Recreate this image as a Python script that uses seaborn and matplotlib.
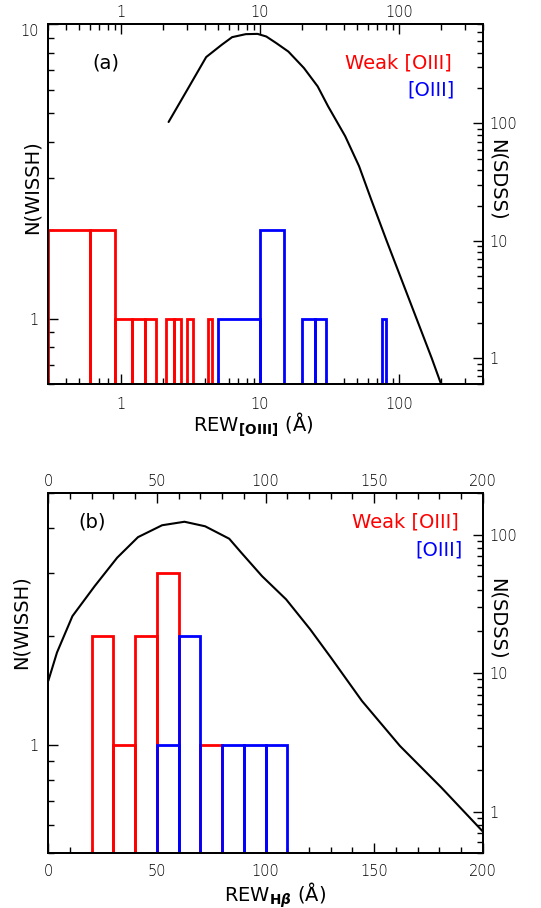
import numpy as np
import matplotlib
matplotlib.use("Agg")
import matplotlib.pyplot as plt
import seaborn as sns
from matplotlib.ticker import FixedLocator, NullFormatter, FuncFormatter

# ---------------- data ----------------
# Panel (a): REW [OIII]
a_weak_left = [0.3, 0.6, 0.9, 1.2, 1.5, 2.1, 2.4, 3.0, 4.2]
a_weak_right = [0.6, 0.9, 1.2, 1.5, 1.8, 2.4, 2.7, 3.3, 4.5]
a_weak_counts = [2, 2, 1, 1, 1, 1, 1, 1, 1]
a_oiii_left = [5, 10, 20, 25, 75]
a_oiii_right = [10, 15, 25, 30, 80]
a_oiii_counts = [1, 2, 1, 1, 1]
a_sdss_rew = [2.2, 3.0, 4.1, 5.3, 6.3, 7.9, 9.6, 11.1, 13.1, 16.0, 20.7, 26.0,
              30.9, 41.0, 51.6, 63.0, 81.5, 172.0, 201.0]
a_sdss_n = [103, 194, 368, 468, 544, 577, 580, 551, 484, 410, 297, 207,
            140, 78, 43.3, 22.6, 10.0, 1.0, 0.6]

# Panel (b): REW Hbeta
b_weak_left = [20, 30, 40, 50, 70]
b_weak_right = [30, 40, 50, 60, 80]
b_weak_counts = [2, 1, 2, 3, 1]
b_oiii_left = [50, 60, 80, 90, 100]
b_oiii_right = [60, 70, 90, 100, 110]
b_oiii_counts = [1, 2, 1, 1, 1]
b_sdss_rew = [0, 4, 11.1, 21.4, 31.7, 41.3, 52.4, 62.7, 72.2, 83.3, 88.9, 98.4,
              109.5, 120.6, 130.2, 144.4, 161.9, 181, 200]
b_sdss_n = [8.8, 14.1, 25.8, 42.6, 68.2, 96, 117, 124, 115, 93.5, 74, 50.2,
            34.1, 20.7, 12.9, 6.3, 2.98, 1.49, 0.72]

# tick positions
a_x_major = [1, 10, 100]
a_y_major = [1, 10]
a_y2_major = [1, 10, 100]
b_x_major = [0, 50, 100, 150, 200]
b_x_minor = list(range(10, 200, 10))
b_y_major = [1]
b_y2_major = [1, 10, 100]

# ---------------- style ----------------
sns.set_theme(style="ticks")
plt.rcParams["font.family"] = ["DejaVu Sans"]
plt.rcParams["font.weight"] = 200
plt.rcParams["mathtext.fontset"] = "dejavusans"
for k in ("text.color", "axes.labelcolor", "xtick.color", "ytick.color", "axes.edgecolor"):
    plt.rcParams[k] = "black"

W, H = 541, 908
fig = plt.figure(figsize=(W / 100, H / 100), dpi=100)


def fx(px):
    return px / W


def fy(py):
    return 1 - py / H


fmt = FuncFormatter(lambda v, p: f"{v:g}")
RED = "#ff0000"
BLUE = "#0000ff"
TS = 10.5
BIG = dict(fontsize=14, fontweight="normal")


def log_minor(lo, hi):
    out = []
    for d in range(-2, 4):
        for m in range(2, 10):
            v = m * 10.0 ** d
            if lo <= v <= hi:
                out.append(v)
    return out


def set_ticks(axis, major, minor):
    axis.set_major_locator(FixedLocator(major))
    axis.set_minor_locator(FixedLocator(minor))
    axis.set_major_formatter(fmt)
    axis.set_minor_formatter(NullFormatter())


def hist_bars(ax, lefts, rights, counts, color):
    lefts = np.asarray(lefts, float)
    widths = np.asarray(rights, float) - lefts
    base = 0.1
    ax.bar(lefts, np.asarray(counts, float) - base, width=widths, bottom=base,
           align="edge", fill=False, edgecolor=color, linewidth=2.0, zorder=3)


def style_axes(ax, ax2, top, xpad):
    for a in (ax, ax2, top):
        for s in a.spines.values():
            s.set_linewidth(1.4)
            s.set_color("black")
    ax.tick_params(axis="both", which="both", direction="in", top=False,
                   right=False, labelsize=TS, colors="black")
    ax.tick_params(axis="both", which="major", length=7, width=1.0)
    ax.tick_params(axis="both", which="minor", length=4, width=1.0)
    ax.tick_params(axis="x", which="both", pad=xpad)
    ax.tick_params(axis="y", which="both", pad=7)
    top.tick_params(axis="x", which="both", direction="in", labelsize=TS, pad=3,
                    colors="black")
    top.tick_params(axis="x", which="major", length=7, width=1.0)
    top.tick_params(axis="x", which="minor", length=4, width=1.0)
    ax2.tick_params(axis="y", which="both", direction="in", right=True, left=False,
                    labelright=True, labelsize=TS, pad=5, colors="black")
    ax2.tick_params(axis="y", which="major", length=7, width=1.0)
    ax2.tick_params(axis="y", which="minor", length=4, width=1.0)
    for a in (ax, ax2):
        a.set_xlabel("")
        a.set_ylabel("")


# ---------------- panel (a) ----------------
axA = fig.add_axes([fx(48.3), fy(384.3), (482.7 - 48.3) / W, (384.3 - 24.3) / H])
axA.set_xscale("log")
axA.set_yscale("log")
hist_bars(axA, a_weak_left, a_weak_right, a_weak_counts, RED)
hist_bars(axA, a_oiii_left, a_oiii_right, a_oiii_counts, BLUE)
axA.set_xlim(0.3, 400)
axA.set_ylim(0.6, 10)
set_ticks(axA.yaxis, a_y_major, log_minor(0.6, 10))
set_ticks(axA.xaxis, a_x_major, log_minor(0.3, 400))

topA = axA.secondary_xaxis("top")
set_ticks(topA.xaxis, a_x_major, log_minor(0.3, 400))

axA2 = axA.twinx()
axA2.set_yscale("log")
sns.lineplot(x=a_sdss_rew, y=a_sdss_n, ax=axA2, color="black", linewidth=1.5,
             sort=False, estimator=None)
axA2.set_ylim(0.6, 700)
axA2.set_xlim(0.3, 400)
set_ticks(axA2.yaxis, a_y2_major, log_minor(0.6, 700))
style_axes(axA, axA2, topA, 9)

# "10" label sits just below the top corner, as in the reference
ticksA = axA.yaxis.get_major_ticks()
if len(ticksA) >= 2:
    ticksA[1].label1.set_verticalalignment("top")

axA.text(0.133, 0.893, "(a)", transform=axA.transAxes, ha="center", va="center", **BIG)
axA.text(0.929, 0.893, "Weak [OIII]", transform=axA.transAxes, ha="right",
         va="center", color=RED, **BIG)
axA.text(0.936, 0.8175, "[OIII]", transform=axA.transAxes, ha="right",
         va="center", color=BLUE, **BIG)

# ---------------- panel (b) ----------------
axB = fig.add_axes([fx(48.3), fy(853.3), (482.7 - 48.3) / W, (853.3 - 493.0) / H])
axB.set_yscale("log")
hist_bars(axB, b_weak_left, b_weak_right, b_weak_counts, RED)
hist_bars(axB, b_oiii_left, b_oiii_right, b_oiii_counts, BLUE)
axB.set_xlim(0, 200)
axB.set_ylim(0.5, 5)
set_ticks(axB.xaxis, b_x_major, b_x_minor)
set_ticks(axB.yaxis, b_y_major, log_minor(0.5, 5))

topB = axB.secondary_xaxis("top")
set_ticks(topB.xaxis, b_x_major, b_x_minor)

axB2 = axB.twinx()
axB2.set_yscale("log")
sns.lineplot(x=b_sdss_rew, y=b_sdss_n, ax=axB2, color="black", linewidth=1.5,
             sort=False, estimator=None)
axB2.set_ylim(0.5, 200)
axB2.set_xlim(0, 200)
set_ticks(axB2.yaxis, b_y2_major, log_minor(0.5, 200))
style_axes(axB, axB2, topB, 8)

axB.text(0.101, 0.920, "(b)", transform=axB.transAxes, ha="center", va="center", **BIG)
axB.text(0.945, 0.920, "Weak [OIII]", transform=axB.transAxes, ha="right",
         va="center", color=RED, **BIG)
axB.text(0.953, 0.842, "[OIII]", transform=axB.transAxes, ha="right",
         va="center", color=BLUE, **BIG)

# ---------------- axis titles ----------------
fig.text(fx(31.7), fy(187.3), "N(WISSH)", rotation=90, ha="center", va="center", **BIG)
fig.text(fx(21.0), fy(621.7), "N(WISSH)", rotation=90, ha="center", va="center", **BIG)
fig.text(fx(496.7), fy(180.0), "N(SDSS)", rotation=270, ha="center", va="center", **BIG)
fig.text(fx(496.7), fy(619.0), "N(SDSS)", rotation=270, ha="center", va="center", **BIG)
fig.text(fx(253.3), fy(425.0), r"REW$_{\mathbf{[OIII]}}$ (Å)", ha="center", va="center", **BIG)
fig.text(fx(274.8), fy(895.0), r"REW$_{\mathbf{H}\boldsymbol{\beta}}$ (Å)", ha="center", va="center", **BIG)

fig.savefig("out.png", dpi=100)
